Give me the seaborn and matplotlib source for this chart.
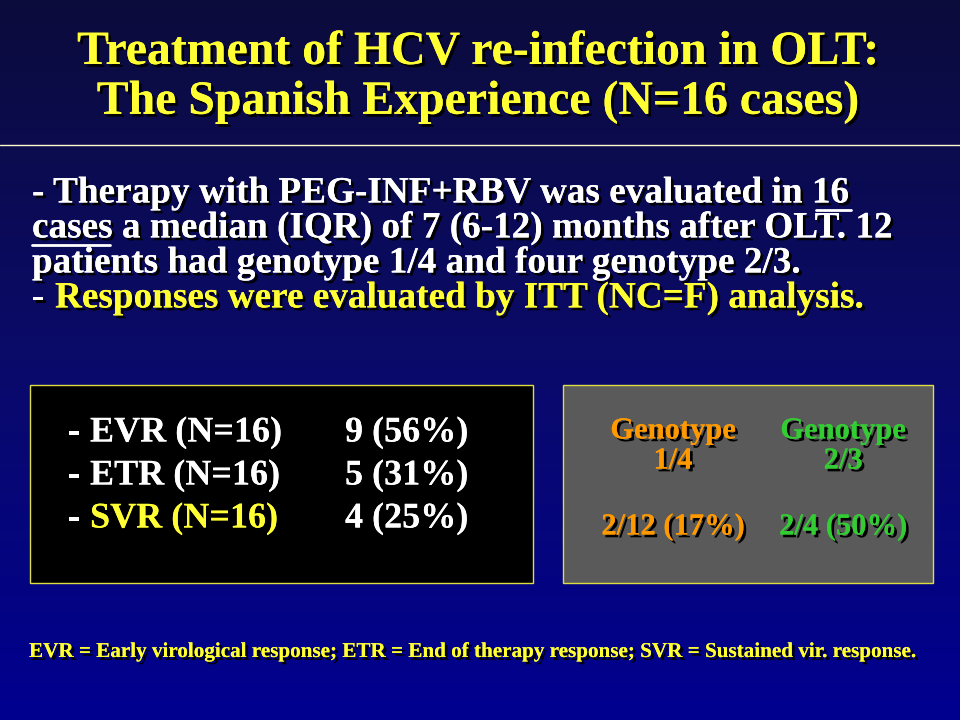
import matplotlib
matplotlib.use("Agg")
import matplotlib.pyplot as plt
import matplotlib.patheffects as pe
import numpy as np
import seaborn as sns

title_lines = ["Treatment of HCV re-infection in OLT:", "The Spanish Experience (N=16 cases)"]
body_lines = ["- Therapy with PEG-INF+RBV was evaluated in 16",
              "cases a median (IQR) of 7 (6-12) months after OLT. 12",
              "patients had genotype 1/4 and four genotype 2/3."]
itt_line = "Responses were evaluated by ITT (NC=F) analysis."
resp_labels = ["EVR (N=16)", "ETR (N=16)", "SVR (N=16)"]
resp_values = ["9 (56%)", "5 (31%)", "4 (25%)"]
geno_names = ["Genotype\n1/4", "Genotype\n2/3"]
geno_values = ["2/12 (17%)", "2/4 (50%)"]
footer = "EVR = Early virological response; ETR = End of therapy response; SVR = Sustained vir. response."

sns.set_style("white")
plt.rcParams['font.family'] = ['Liberation Serif', 'DejaVu Serif']

YEL = "#ffff33"
fig = plt.figure(figsize=(9.6, 7.2), dpi=100)
ax = fig.add_axes([0, 0, 1, 1])
ax.set_xlim(0, 960)
ax.set_ylim(720, 0)
ax.axis("off")

# gradient background
grad = np.linspace(0, 1, 256)[:, None]
cmap = matplotlib.colors.LinearSegmentedColormap.from_list("bg", ["#0c0c3c", "#0a0a6a", "#000090"])
ax.imshow(grad, aspect="auto", cmap=cmap, extent=[0, 960, 720, 0], zorder=0)

sh = [pe.withSimplePatchShadow(offset=(2, -2), shadow_rgbFace="black", alpha=1), pe.Normal()]

def txt(x, y, s, size, color, ha="left", **kw):
    ax.text(x, y, s, fontsize=size, color=color, ha=ha, va="center",
            fontweight="bold", path_effects=sh, zorder=5, **kw)

for i, t in enumerate(title_lines):
    txt(478, 52 + i * 50, t, 34.4, YEL, ha="center")
ax.plot([0, 960], [145, 145], color="#ffffcc", lw=1, zorder=3)

BS = 26.8
for i, t in enumerate(body_lines):
    txt(32, 193 + i * 35, t, BS, "white")
txt(32, 298, "-", BS, "white")
txt(55, 298, itt_line, BS, YEL)
ax.plot([816, 851], [210, 210], color="white", lw=2, zorder=5)
ax.plot([32, 110], [245, 245], color="white", lw=2, zorder=5)

ax.add_patch(plt.Rectangle((30, 385), 503, 198, facecolor="black", edgecolor="#dddd44", lw=1, zorder=2))
ax.add_patch(plt.Rectangle((563, 385), 370, 198, facecolor="#5a5a5a", edgecolor="#dddd44", lw=1, zorder=2))

for i, (lab, val) in enumerate(zip(resp_labels, resp_values)):
    y = 433 + i * 43
    col = YEL if i == 2 else "white"
    txt(68, y, "-", 26, "white")
    txt(90, y, lab, 26, col)
    txt(345, y, val, 26, "white")

for x, name, val, col in zip([673, 843], geno_names, geno_values, ["#ff9900", "#33cc33"]):
    txt(x, 446, name, 22, col, ha="center", linespacing=1.05)
    txt(x, 527, val, 22, col, ha="center")

txt(472, 652, footer, 15.2, YEL, ha="center")

fig.savefig("out.png", dpi=100)
